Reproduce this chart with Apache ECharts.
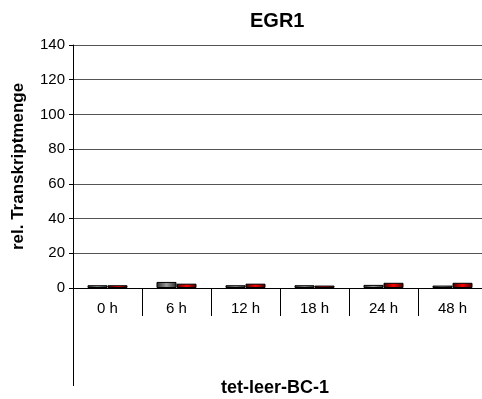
<!DOCTYPE html>
<html><head><meta charset="utf-8">
<script src="https://cdn.jsdelivr.net/npm/echarts@6/dist/echarts.min.js"></script>
<style>html,body{margin:0;padding:0;background:#fff}#c{width:482px;height:399px}</style>
</head><body><div id="c"></div>
<script>
var categories = ['0 h', '6 h', '12 h', '18 h', '24 h', '48 h'];
var seriesGrey = [1.6, 3.5, 1.6, 1.6, 1.8, 1.4];
var seriesRed = [1.6, 2.5, 2.5, 1.4, 3.0, 3.0];
var yTicks = [0, 20, 40, 60, 80, 100, 120, 140];

var chart = echarts.init(document.getElementById('c'), null, {renderer: 'canvas'});
var font = 'Arial, "Liberation Sans", sans-serif';
function grad(edge, mid) {
  return new echarts.graphic.LinearGradient(0, 0, 1, 0, [
    {offset: 0, color: edge}, {offset: 0.5, color: mid}, {offset: 1, color: edge}
  ]);
}
chart.setOption({
  animation: false,
  title: {text: 'EGR1', left: 245, top: 6,
    textStyle: {fontFamily: font, fontSize: 20, fontWeight: 'bold', color: '#000'}},
  grid: {left: 73, top: 45, width: 414, height: 243, containLabel: false, outerBoundsMode: 'none'},
  graphic: [{type: 'line', shape: {x1: 73.5, y1: 288, x2: 73.5, y2: 386},
    style: {stroke: '#000', lineWidth: 1}}],
  xAxis: {
    type: 'category', data: categories,
    name: 'tet-leer-BC-1', nameLocation: 'middle', nameGap: 91,
    nameTextStyle: {fontFamily: font, fontSize: 18, fontWeight: 'bold', color: '#000', padding: [0, 10, 0, 0]},
    axisLine: {lineStyle: {color: '#000', width: 1}},
    axisTick: {show: true, interval: 0, length: 28, inside: false, lineStyle: {color: '#000'}},
    axisLabel: {interval: 0, margin: 13, fontFamily: font, fontSize: 15, color: '#000'},
    splitLine: {show: false}
  },
  yAxis: {
    type: 'value', min: 0, max: 140, interval: 20,
    name: 'rel. Transkriptmenge', nameLocation: 'middle', nameGap: 46, nameRotate: 90,
    nameTextStyle: {fontFamily: font, fontSize: 17, fontWeight: 'bold', color: '#000'},
    axisLine: {show: true, lineStyle: {color: '#000'}},
    axisTick: {show: true, length: 4, lineStyle: {color: '#000'}},
    axisLabel: {margin: 8, fontFamily: font, fontSize: 15, color: '#000',
      formatter: function (v) { return yTicks.indexOf(v) >= 0 ? String(v) : ''; }},
    splitLine: {show: true, lineStyle: {color: '#555', width: 1}}
  },
  series: [
    {type: 'bar', data: seriesGrey, barGap: '0%', barCategoryGap: '42%',
      itemStyle: {color: grad('#2a2a2a', '#9a9a9a'), borderColor: '#000', borderWidth: 1}},
    {type: 'bar', data: seriesRed,
      itemStyle: {color: grad('#3a0000', '#ff0000'), borderColor: '#000', borderWidth: 1}}
  ]
});
</script></body></html>
